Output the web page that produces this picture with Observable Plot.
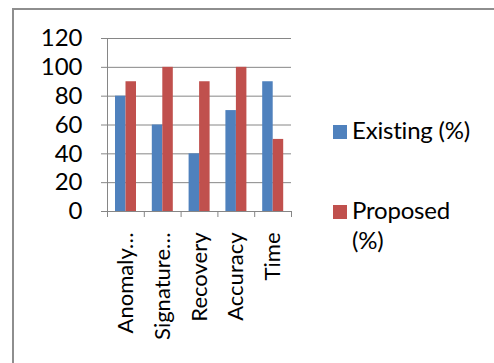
<!DOCTYPE html>
<html>
<head>
<meta charset="utf-8">
<script src="https://cdn.jsdelivr.net/npm/d3@7"></script>
<script src="https://cdn.jsdelivr.net/npm/@observablehq/plot@0.6"></script>
<style>
  html, body { margin: 0; padding: 0; background: #fff; }
  #wrap { position: relative; width: 494px; height: 363px; overflow: hidden; font-family: Lato, "Open Sans", sans-serif; }
  #frame { position: absolute; left: 12px; top: 8px; width: 490px; height: 360px; border-left: 2px solid #8e8e8e; border-top: 2px solid #8e8e8e; }
  #chart { position: absolute; left: 0; top: 0; }
  .sw { position: absolute; width: 14px; height: 14px; }
  .lt { position: absolute; font-size: 24px; line-height: 30px; color: #000; width: 128px; letter-spacing: -0.2px; }
</style>
</head>
<body>
<div id="wrap">
  <div id="frame"></div>
  <div id="chart"></div>
  <div id="legend"></div>
</div>
<script>
const categories = ["Anomaly…", "Signature…", "Recovery", "Accuracy", "Time"];
const existing = [80, 60, 40, 70, 90];
const proposed = [90, 100, 90, 100, 50];
const yTicks = [0, 20, 40, 60, 80, 100, 120];
const series = ["Existing (%)", "Proposed (%)"];
const colors = ["#4F81BD", "#C0504D"];

const rowsExisting = categories.map((c, i) => ({category: c, i, value: existing[i]}));
const rowsProposed = categories.map((c, i) => ({category: c, i, value: proposed[i]}));
const boundaries = d3.range(categories.length + 1);
const centers = categories.map((_, i) => i + 0.5);
const grid = "#868686";

const chart = Plot.plot({
  width: 494,
  height: 363,
  marginTop: 38,
  marginBottom: 152,
  marginLeft: 107,
  marginRight: 203,
  style: {fontFamily: "Lato, 'Open Sans', sans-serif", fontSize: "24px", color: "#000", background: "transparent", overflow: "visible"},
  x: {domain: [0, categories.length], axis: null},
  y: {domain: [0, 120], axis: null},
  marks: [
    Plot.ruleY(yTicks, {stroke: grid, strokeWidth: 1}),
    Plot.rectY(rowsExisting, {x1: "i", x2: d => d.i + 1, y: "value", fill: colors[0], insetLeft: 8, insetRight: 18.3}),
    Plot.rectY(rowsProposed, {x1: "i", x2: d => d.i + 1, y: "value", fill: colors[1], insetLeft: 18.5, insetRight: 7.8}),
    Plot.ruleX([0], {stroke: grid, strokeWidth: 1}),
    Plot.axisY({ticks: yTicks, tickSize: 6, tickPadding: 19, stroke: grid, fill: "#000", fontSize: 24, label: null}),
    Plot.axisX({ticks: boundaries, tickFormat: () => "", tickSize: 6, stroke: grid, label: null}),
    Plot.axisX({ticks: centers, tickFormat: d => categories[Math.floor(d)], tickSize: 0, tickPadding: 21, tickRotate: -90, fill: "#000", fontSize: 22, label: null})
  ]
});
document.getElementById("chart").appendChild(chart);

const legend = document.getElementById("legend");
const swTops = [125, 205];
const txTops = [115, 195];
series.forEach((s, k) => {
  const sw = document.createElement("div");
  sw.className = "sw";
  sw.style.left = "333px";
  sw.style.top = swTops[k] + "px";
  sw.style.background = colors[k];
  legend.appendChild(sw);
  const t = document.createElement("div");
  t.className = "lt";
  t.style.left = "352px";
  t.style.top = txTops[k] + "px";
  t.textContent = s;
  legend.appendChild(t);
});
</script>
</body>
</html>
